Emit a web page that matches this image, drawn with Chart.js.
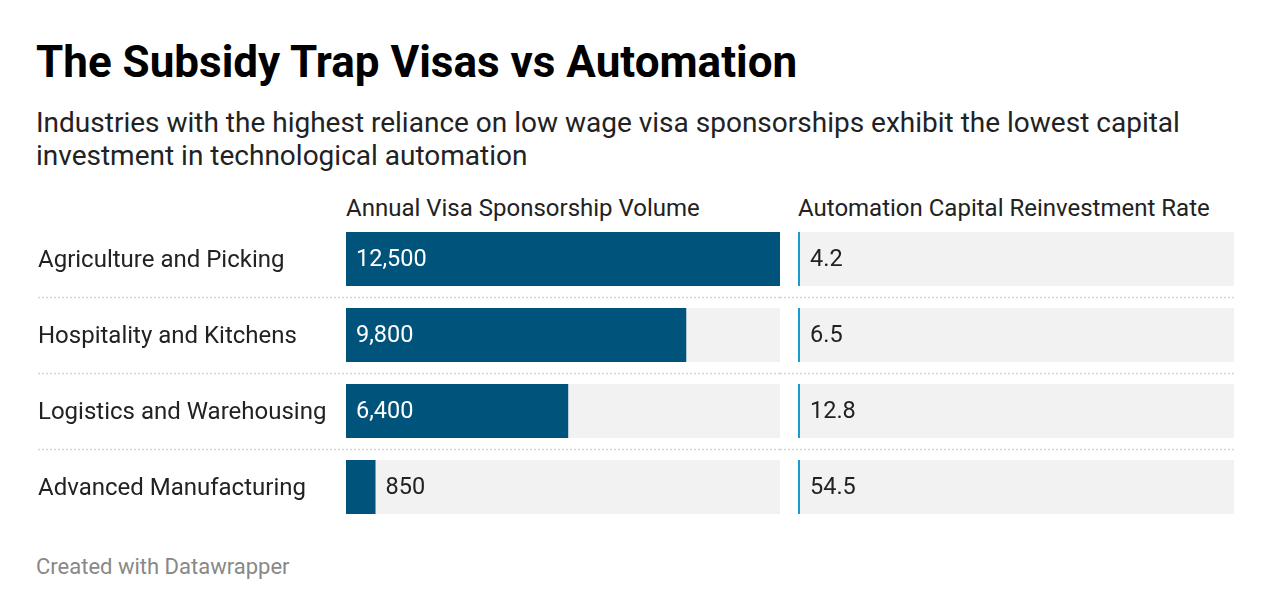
<!DOCTYPE html>
<html>
<head>
<meta charset="utf-8">
<script src="https://cdn.jsdelivr.net/npm/chart.js@4"></script>
<style>
  html, body { margin:0; padding:0; background:#fff; }
  body { width:1272px; height:616px; position:relative; overflow:hidden; font-family: Roboto, "Noto Sans", sans-serif; }
  .t { position:absolute; white-space:nowrap; }
  #title { left:36px; top:35px; font-size:44px; line-height:54px; font-weight:700; color:#000; }
  #sub { left:36px; top:106px; font-size:28px; line-height:33px; color:#222; }
  .hdr { top:194px; font-size:24px; line-height:28px; color:#222; }
  #foot { left:36px; top:553px; font-size:22px; line-height:28px; color:#888; }
  #wa { position:absolute; left:0; top:221px; width:780px; height:304px; }
  #wb { position:absolute; left:780px; top:221px; width:492px; height:304px; }
</style>
</head>
<body>
<div class="t" id="title">The Subsidy Trap Visas vs Automation</div>
<div class="t" id="sub">Industries with the highest reliance on low wage visa sponsorships exhibit the lowest capital<br>investment in technological automation</div>
<div class="t hdr" style="left:346px">Annual Visa Sponsorship Volume</div>
<div class="t hdr" style="left:798px">Automation Capital Reinvestment Rate</div>
<div id="wa"><canvas id="ca"></canvas></div>
<div id="wb"><canvas id="cb"></canvas></div>
<div class="t" id="foot">Created with Datawrapper</div>
<script>
const categories = ["Agriculture and Picking", "Hospitality and Kitchens", "Logistics and Warehousing", "Advanced Manufacturing"];
const visaVolume = [12500, 9800, 6400, 850];
const automationRate = [4.2, 6.5, 12.8, 54.5];
const axisMax = 12500;

const FONT = "Roboto, 'Noto Sans', sans-serif";
const VAL_SIZE = 23.5;

function fmt(v, dec) {
  return v.toLocaleString('en-US', {minimumFractionDigits: dec, maximumFractionDigits: dec});
}

const trackPlugin = {
  id: 'track',
  beforeDatasetsDraw(chart) {
    const ctx = chart.ctx, a = chart.chartArea;
    const meta = chart.getDatasetMeta(0);
    ctx.save();
    ctx.fillStyle = '#f2f2f2';
    meta.data.forEach(el => {
      ctx.fillRect(a.left, el.y - el.height / 2, a.right - a.left, el.height);
    });
    ctx.restore();
  }
};

function sepPlugin(startX, endFn) {
  return {
    id: 'sep',
    beforeDatasetsDraw(chart) {
      const ctx = chart.ctx;
      const meta = chart.getDatasetMeta(0);
      ctx.save();
      ctx.strokeStyle = '#d4d4d4';
      ctx.lineWidth = 1.5;
      ctx.setLineDash([2, 2]);
      for (let i = 0; i < meta.data.length - 1; i++) {
        const y = Math.round((meta.data[i].y + meta.data[i + 1].y) / 2) + 0.5;
        ctx.beginPath();
        ctx.moveTo(startX, y);
        ctx.lineTo(endFn(chart), y);
        ctx.stroke();
      }
      ctx.restore();
    }
  };
}

function labelPlugin(dec, insideOk) {
  return {
    id: 'vals',
    afterDatasetsDraw(chart) {
      const ctx = chart.ctx;
      const meta = chart.getDatasetMeta(0);
      const data = chart.data.datasets[0].data;
      ctx.save();
      ctx.font = VAL_SIZE + 'px ' + FONT;
      ctx.textBaseline = 'middle';
      ctx.textAlign = 'left';
      meta.data.forEach((el, i) => {
        const txt = fmt(data[i], dec);
        const w = ctx.measureText(txt).width;
        const barW = el.x - el.base;
        if (insideOk && barW > w + 20) {
          ctx.fillStyle = '#ffffff';
          ctx.fillText(txt, el.base + 10, el.y + 1);
        } else {
          ctx.fillStyle = '#222222';
          ctx.fillText(txt, el.x + 10, el.y + 1);
        }
      });
      ctx.restore();
    }
  };
}

Chart.defaults.font.family = FONT;
Chart.defaults.animation = false;

new Chart(document.getElementById('ca'), {
  type: 'bar',
  data: {
    labels: categories,
    datasets: [{
      data: visaVolume,
      backgroundColor: '#00547b',
      barPercentage: 0.711,
      categoryPercentage: 1
    }]
  },
  options: {
    indexAxis: 'y',
    responsive: true,
    maintainAspectRatio: false,
    layout: { padding: { left: 38, right: 0, top: 0, bottom: 0 } },
    plugins: { legend: { display: false }, tooltip: { enabled: false } },
    scales: {
      x: { display: false, min: 0, max: axisMax },
      y: {
        grid: { display: false },
        border: { display: false },
        ticks: {
          crossAlign: 'far',
          color: '#222',
          font: { size: 24, family: FONT },
          padding: 0,
          labelOffset: 1.5
        },
        afterFit(scale) {
          scale.width = 308;
          scale.paddingTop = 0;
          scale.paddingBottom = 0;
        }
      }
    }
  },
  plugins: [trackPlugin, sepPlugin(38, c => c.width), labelPlugin(0, true)]
});

new Chart(document.getElementById('cb'), {
  type: 'bar',
  data: {
    labels: categories,
    datasets: [{
      data: automationRate,
      backgroundColor: '#1a9bd0',
      barPercentage: 0.711,
      categoryPercentage: 1,
      minBarLength: 2
    }]
  },
  options: {
    indexAxis: 'y',
    responsive: true,
    maintainAspectRatio: false,
    layout: { padding: { left: 18, right: 38, top: 0, bottom: 0 } },
    plugins: { legend: { display: false }, tooltip: { enabled: false } },
    scales: {
      x: { display: false, min: 0, max: axisMax },
      y: { display: false }
    }
  },
  plugins: [trackPlugin, sepPlugin(0, c => c.chartArea.right), labelPlugin(1, false)]
});
</script>
</body>
</html>
